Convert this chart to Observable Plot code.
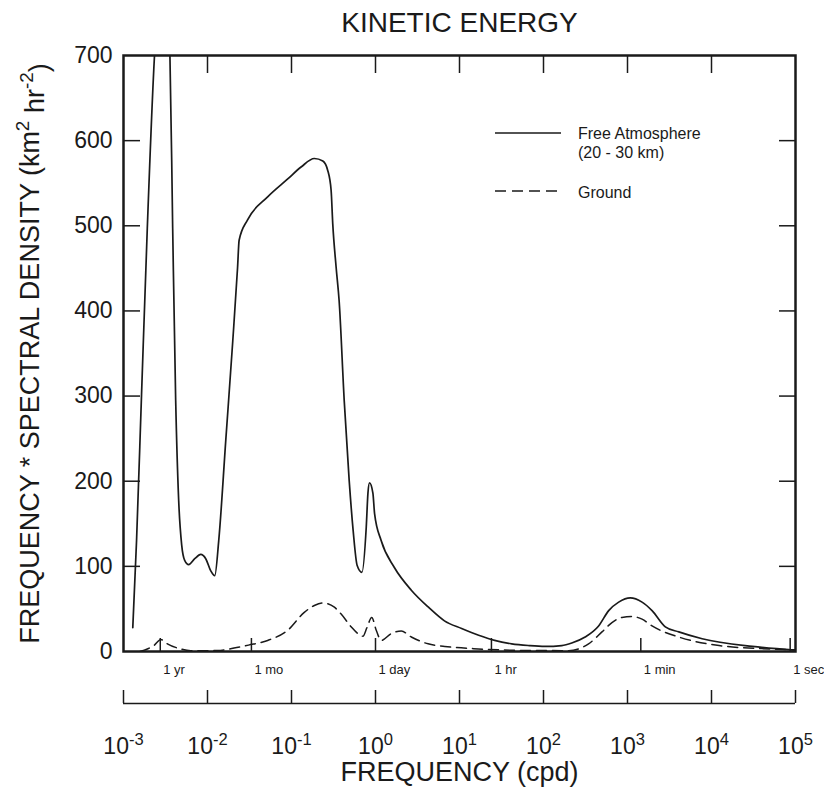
<!DOCTYPE html>
<html><head><meta charset="utf-8">
<script src="https://cdn.jsdelivr.net/npm/d3@7"></script>
<script src="https://cdn.jsdelivr.net/npm/@observablehq/plot@0.6"></script>
<style>body{margin:0;background:#fff;font-family:"Liberation Sans",Arial,sans-serif}</style>
</head><body><div id="chart"></div>
<script>
// Free Atmosphere (20 - 30 km): frequency (cpd) and frequency*spectral density
const freeFreq = [1.29e-3,1.43e-3,1.64e-3,1.92e-3,2.34e-3,2.62e-3,2.88e-3,3.17e-3,3.57e-3,3.85e-3,4.18e-3,4.54e-3,4.93e-3,5.35e-3,5.97e-3,7.05e-3,8.30e-3,9.53e-3,1.09e-2,1.22e-2,1.36e-2,1.65e-2,2.00e-2,2.28e-2,2.38e-2,3.00e-2,5.20e-2,9.02e-2,0.130,0.187,0.236,0.270,0.296,0.310,0.340,0.369,0.424,0.486,0.542,0.605,0.689,0.776,0.813,0.849,0.931,0.975,1.17,1.67,2.67,4.27,6.62,10.6,16.9,26.2,41.8,66.7,104,165,217,313,453,597,785,1080,1490,1960,2820,4080,7740,30600,100000];
const freeValue = [28,130,302,497,700,770,790,770,700,497,295,177,125,107,102,109,114,109,95,89,130,248,365,451,483,507,534,555,569,579,576,565,542,502,451,412,295,201,142,101,93,146,186,198,186,162,130,99,72,52,36,27,19,13,9,7,6,7,10,17,30,48,58,63,58,48,29,23,15,6,1.5];
// Ground
const groundFreq = [1.57e-3,1.92e-3,2.30e-3,2.79e-3,3.33e-3,4.80e-3,6.31e-3,9.10e-3,1.32e-2,2.07e-2,3.08e-2,5.20e-2,9.02e-2,0.142,0.187,0.236,0.324,0.390,0.513,0.617,0.708,0.79,0.902,1.02,1.17,1.54,2.03,2.67,4.23,6.67,16.7,66.1,199,344,497,653,859,1130,1490,1960,4080,12300,48500,100000];
const groundValue = [0,3,7,14,9,3,1,1,1.2,4,7.5,13,25,46,54,57,52,44,29,21,18,28,40,25,13,21,24,17,9,6,3,1.2,1,9,23,34,40,41,38,30,17,7,3,2];

const yTicks = [0,100,200,300,400,500,600,700];
const decadeTicks = [1e-3,1e-2,1e-1,1e0,1e1,1e2,1e3,1e4,1e5];
const decadeLabels = ["10^-3","10^-2","10^-1","10^0","10^1","10^2","10^3","10^4","10^5"];
const periodTicks = [1/365,1/30,1,24,1440,86400];
const periodLabels = ["1 yr","1 mo","1 day","1 hr","1 min","1 sec"];
const titleText = "KINETIC ENERGY";
const xTitle = "FREQUENCY (cpd)";
const yTitle = "FREQUENCY * SPECTRAL DENSITY (km^2 hr^-2)";
const legendNames = ["Free Atmosphere", "(20 - 30 km)", "Ground"];

const free = freeFreq.map((f,i)=>({f, v: freeValue[i]}));
const ground = groundFreq.map((f,i)=>({f, v: groundValue[i]}));

const ink = "#1a1a1a";
const chart = Plot.plot({
  width: 824, height: 787,
  marginLeft: 123, marginRight: 29, marginTop: 55, marginBottom: 136,
  style: {fontFamily: "Liberation Sans, Arial, sans-serif", color: ink, background: "#fff"},
  x: {type: "log", domain: [1e-3, 1e5], axis: null},
  y: {domain: [0, 700], axis: null},
  marks: [
    Plot.line(free, {x: "f", y: "v", curve: "monotone-x", stroke: ink, strokeWidth: 1.7, clip: true}),
    Plot.line(ground, {x: "f", y: "v", curve: "monotone-x", stroke: ink, strokeWidth: 1.5, strokeDasharray: "10,6", clip: true}),
    Plot.frame({stroke: ink, strokeWidth: 2.5}),
    // y tick labels
    Plot.axisY(yTicks, {anchor: "left", tickSize: 0, tickPadding: 11, fontSize: 23, fill: ink, label: null}),
    // inner ticks
    Plot.axisY(yTicks.slice(1, -1), {anchor: "left", tickSize: -17, fill: "none", stroke: ink, strokeWidth: 1.5, label: null}),
    Plot.axisY(yTicks.slice(1, -1), {anchor: "right", tickSize: -17, fill: "none", stroke: ink, strokeWidth: 1.5, label: null}),
    Plot.axisX(decadeTicks.slice(1, -1), {anchor: "top", tickSize: -17, fill: "none", stroke: ink, strokeWidth: 1.5, label: null}),
    Plot.axisX(periodTicks, {anchor: "bottom", tickSize: -13, fill: "none", stroke: ink, strokeWidth: 1.5, label: null}),
    Plot.text(periodTicks, {x: d => d, text: (d, i) => periodLabels[i], frameAnchor: "bottom", lineAnchor: "middle", textAnchor: "start", dy: 18, dx: 3, fontSize: 13, fill: ink}),
    // secondary decade axis
    Plot.ruleY([0], {dy: 52, stroke: ink, strokeWidth: 1.5}),
    Plot.axisX(decadeTicks, {anchor: "bottom", dy: 52, tickSize: -13, fill: "none", stroke: ink, strokeWidth: 1.5, label: null}),
    Plot.text(decadeTicks, {x: d => d, text: (d, i) => decadeLabels[i], frameAnchor: "bottom", lineAnchor: "middle", dy: 95, fontSize: 23, fill: ink, className: "decade-labels"}),
    // titles
    Plot.text([titleText], {frameAnchor: "top", lineAnchor: "middle", dy: -32, fontSize: 28, fill: ink}),
    Plot.text([xTitle], {frameAnchor: "bottom", lineAnchor: "middle", dy: 121, fontSize: 27, fill: ink}),
    Plot.text([yTitle], {frameAnchor: "left", textAnchor: "middle", lineAnchor: "middle", dx: -93, rotate: -90, fontSize: 27, fill: ink, className: "ytitle"})
  ]
});
document.getElementById("chart").append(chart);

function superscript(sel, fs) {
  sel.each(function() {
    const t = d3.select(this);
    const parts = t.text().split(/(\^-?\d+)/).filter(p => p);
    t.text("");
    let raised = false;
    parts.forEach(p => {
      if (p.startsWith("^")) {
        t.append("tspan").attr("dy", "-0.55em").attr("font-size", fs).text(p.slice(1));
        raised = true;
      } else {
        const s = t.append("tspan").text(p);
        if (raised) { s.attr("dy", "0.55em"); raised = false; }
      }
    });
  });
}
const svg = d3.select(chart);
superscript(svg.selectAll("g.decade-labels text"), "0.72em");
superscript(svg.selectAll("g.ytitle text"), "0.7em");

// legend
const lg = svg.append("g").attr("font-size", 16).attr("fill", ink).attr("text-anchor", "start").attr("font-family", "Liberation Sans, Arial, sans-serif");
lg.append("line").attr("x1", 495).attr("x2", 561).attr("y1", 133).attr("y2", 133).attr("stroke", ink).attr("stroke-width", 1.5);
lg.append("text").attr("x", 578).attr("y", 139).text(legendNames[0]);
lg.append("text").attr("x", 578).attr("y", 158).text(legendNames[1]);
lg.append("line").attr("x1", 495).attr("x2", 561).attr("y1", 191).attr("y2", 191).attr("stroke", ink).attr("stroke-width", 1.5).attr("stroke-dasharray", "11,6");
lg.append("text").attr("x", 578).attr("y", 198).text(legendNames[2]);
</script></body></html>
